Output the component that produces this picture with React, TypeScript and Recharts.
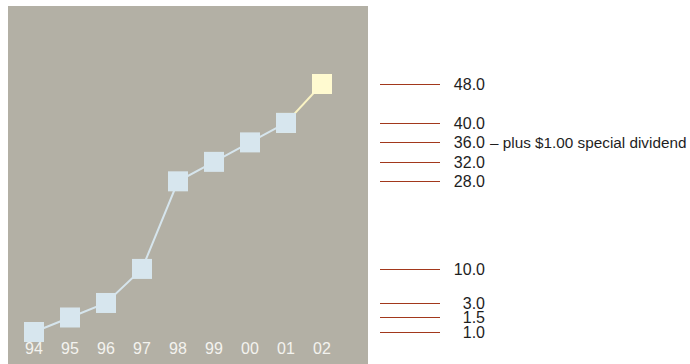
import React from 'react';
import { LineChart, Line, XAxis, YAxis } from 'recharts';

const years = ['94', '95', '96', '97', '98', '99', '00', '01', '02'];
const dividends = [1.0, 1.5, 3.0, 10.0, 28.0, 32.0, 36.0, 40.0, 48.0];
const tickNotes = ['', '', '', '', '', '', '– plus $1.00 special dividend', '', ''];
const latestIndex = 7; // 01 -> 02 segment is highlighted

const data = years.map((year, i) => ({
    year,
    history: i <= latestIndex ? dividends[i] : null,
    latest: i >= latestIndex ? dividends[i] : null,
}));

// value axis broken at 3: reciprocal-spaced below, linear above (small values spread out)
const BREAK = 3;
const LOW_SHARE = 0.117;

function brokenScale(): any {
    let dom = [1, 48];
    let rng = [0, 1];
    const frac = (v: number) => {
        const [d0, d1] = dom;
        if (v <= BREAK) return (LOW_SHARE * (1 / d0 - 1 / v)) / (1 / d0 - 1 / BREAK);
        return LOW_SHARE + ((1 - LOW_SHARE) * (v - BREAK)) / (d1 - BREAK);
    };
    const s: any = (v: number) => rng[0] + (rng[1] - rng[0]) * frac(Number(v));
    s.domain = (d?: number[]) => {
        if (d === undefined) return dom.slice();
        dom = d.map(Number);
        return s;
    };
    s.range = (r?: number[]) => {
        if (r === undefined) return rng.slice();
        rng = r.map(Number);
        return s;
    };
    s.copy = () => brokenScale().domain(dom).range(rng);
    s.ticks = () => dividends.slice();
    s.tickFormat = () => (v: number) => String(v);
    s.invert = (y: number) => {
        const f = (y - rng[0]) / (rng[1] - rng[0]);
        const [d0, d1] = dom;
        if (f <= LOW_SHARE) return 1 / (1 / d0 - (f / LOW_SHARE) * (1 / d0 - 1 / BREAK));
        return BREAK + ((f - LOW_SHARE) / (1 - LOW_SHARE)) * (d1 - BREAK);
    };
    return s;
}

const Square = (fill: string) => (p: any) => {
    if (p.cx == null || p.cy == null || p.value == null) return <g key={`e-${p.index}`} />;
    return <rect key={`s-${p.index}`} x={p.cx - 10} y={p.cy - 10} width={20} height={20} fill={fill} />;
};

const ValueTick = (props: any) => {
    const { x, y, payload } = props;
    const i = dividends.indexOf(payload.value);
    const note = tickNotes[i];
    const ly = Math.round(y) + 0.5;
    return (
        <g>
            <line x1={x} x2={x + 60} y1={ly} y2={ly} stroke="#a2381c" strokeWidth={1} />
            <text x={x + 105} y={y} dy="0.36em" textAnchor="end" fill="#1e1e1e" fontSize={16}>
                {payload.value.toFixed(1)}
            </text>
            {note ? (
                <text x={x + 110} y={y} dy="0.36em" fill="#1e1e1e" fontSize={15.3}>
                    {note}
                </text>
            ) : null}
        </g>
    );
};

export default function App() {
    return (
        <div style={{ position: 'absolute', left: 0, top: 0, width: 690, height: 364 }}>
            <div style={{ position: 'absolute', left: 8, top: 6, width: 360, height: 358, background: '#b3b0a5' }} />
            <div style={{ position: 'absolute', left: 0, top: 0 }}>
                <LineChart
                    width={690}
                    height={364}
                    data={data}
                    margin={{ top: 84, right: 0, bottom: 0, left: 34 }}
                    style={{ fontFamily: '"Liberation Sans", Arial, sans-serif' }}
                >
                    <XAxis
                        dataKey="year"
                        height={32}
                        axisLine={false}
                        tickLine={false}
                        tickSize={0}
                        tickMargin={11}
                        interval={0}
                        tick={{ fill: '#f3f3ef', fontSize: 16 }}
                    />
                    <YAxis
                        orientation="right"
                        type="number"
                        width={368}
                        domain={[1, 48]}
                        scale={brokenScale()}
                        ticks={dividends}
                        interval={0}
                        axisLine={false}
                        tickLine={false}
                        tickSize={0}
                        tickMargin={58}
                        tick={<ValueTick />}
                    />
                    <Line
                        dataKey="latest"
                        stroke="#fbf4c4"
                        strokeWidth={2}
                        dot={Square('#fffad0')}
                        activeDot={false}
                        isAnimationActive={false}
                    />
                    <Line
                        dataKey="history"
                        stroke="#d6e5ed"
                        strokeWidth={2}
                        dot={Square('#d7e6ee')}
                        activeDot={false}
                        isAnimationActive={false}
                    />
                </LineChart>
            </div>
        </div>
    );
}
